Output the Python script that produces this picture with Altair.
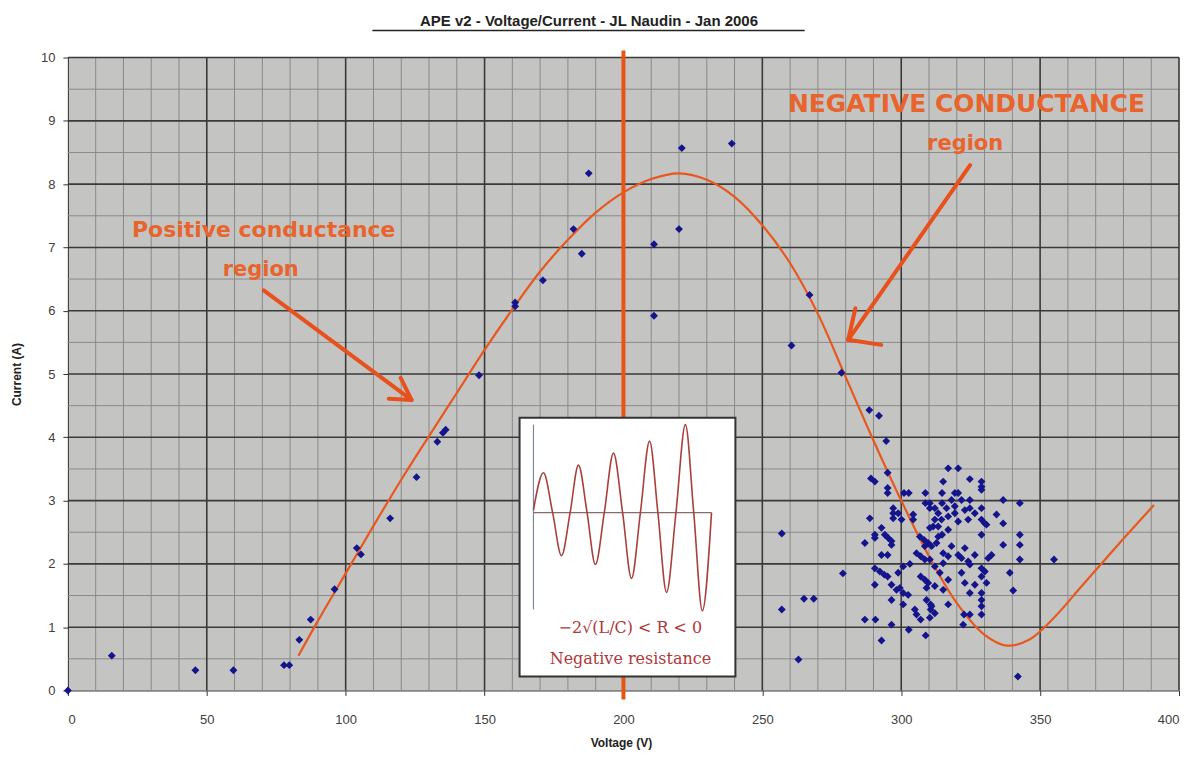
import altair as alt
import pandas as pd

# ---------------- data ----------------
scatter_v = [0, 15.8, 45.9, 59.6, 77.8, 79.7, 83.3, 87.4, 96, 104, 105.5, 116, 125.5, 133, 135, 136,
             148, 161, 161, 171, 182, 185, 187.5, 211, 211, 220, 221, 239, 260.5, 267, 278.5,
             257, 257, 263, 265, 268.5, 279, 288.5, 292, 294.6, 342, 355,
             295.1, 289.1, 290.5, 295.1, 295.1, 301.0, 302.7, 297.1, 297.1, 297.1, 288.7, 298.9,
             300.1, 304.3, 304.3, 286.9, 290.5, 290.5, 292.9, 294.1, 295.3, 296.5, 296.5, 292.9,
             295.1, 290.5, 292.3, 293.9, 295.1, 290.5, 298.9, 300.7, 303.1, 296.5, 298.3, 299.5,
             300.7, 302.5, 296.5, 300.7, 304.9, 305.5, 286.9, 290.7, 296.5, 302.7, 292.9, 308.8,
             307.0, 309.1, 310.6, 310.6, 307.0, 308.5, 309.7, 309.1, 305.5, 307.0, 308.5, 310.3,
             306.7, 308.2, 309.7, 310.9, 312.7, 313.3, 314.7, 308.7, 308.7, 310.3, 310.3, 312.1,
             313.3, 314.7, 314.7, 316.3, 318.1, 319.3, 320.5, 319.3, 319.3, 320.5, 316.9, 315.1,
             316.9, 320.5, 324.7, 328.9, 328.9, 328.9, 324.7, 324.7, 326.5, 328.9, 328.9, 330.1,
             330.7, 328.9, 334.3, 336.7, 336.7, 336.7, 342.7, 342.7, 342.7, 342.7, 322.9, 320.5,
             321.7, 324.1, 324.7, 326.5, 315.1, 315.1, 316.9, 316.9, 328.9, 330.1, 328.9, 330.7,
             328.9, 328.9, 328.9, 328.9, 322.9, 324.7, 326.5, 322.6, 324.7, 322.3, 315.1, 316.9,
             332.5, 331.3, 339.1, 340.3, 310.3, 312.1, 310.9, 312.1, 311.5, 313.3, 314.5, 316.9,
             310.3, 321.7, 322.9, 324.1, 312.1, 313.9, 321.7, 312.1, 308.5, 318.1]
scatter_a = [0, 0.55, 0.32, 0.32, 0.40, 0.40, 0.80, 1.12, 1.60, 2.25, 2.15, 2.72, 3.37, 3.93, 4.07, 4.12,
             4.98, 6.13, 6.07, 6.48, 7.29, 6.90, 8.17, 7.05, 5.92, 7.29, 8.57, 8.64, 5.45, 6.25, 5.02,
             2.48, 1.28, 0.49, 1.45, 1.45, 1.85, 4.43, 4.34, 3.94, 0.22, 2.07,
             3.44, 3.35, 3.30, 3.20, 3.12, 3.12, 3.12, 2.88, 2.80, 2.72, 2.72, 2.80,
             2.70, 2.78, 2.70, 2.33, 2.46, 2.41, 2.57, 2.46, 2.41, 2.36, 2.30, 2.14,
             2.14, 1.93, 1.88, 1.83, 1.80, 1.67, 1.86, 1.96, 2.00, 1.67, 1.59, 1.62,
             1.54, 1.51, 1.43, 1.36, 1.28, 1.20, 1.12, 1.12, 1.04, 0.96, 0.79, 0.87,
             1.12, 1.43, 1.36, 1.28, 1.80, 1.75, 1.70, 1.62, 2.17, 2.12, 2.07, 2.07,
             2.43, 2.38, 2.33, 2.28, 2.33, 2.43, 2.46, 3.12, 2.96, 2.96, 2.88, 2.88,
             2.80, 3.12, 2.96, 2.88, 3.01, 3.12, 3.12, 2.91, 2.80, 2.67, 2.75, 3.30,
             3.51, 3.51, 3.34, 3.30, 3.22, 3.17, 3.01, 2.88, 2.80, 2.88, 2.70, 2.64,
             2.62, 2.46, 2.78, 3.01, 2.64, 2.30, 2.96, 2.46, 2.30, 2.07, 2.25, 2.14,
             2.09, 2.04, 1.99, 2.14, 2.17, 2.01, 2.12, 1.75, 1.93, 1.88, 1.80, 1.70,
             1.54, 1.43, 1.33, 1.20, 1.70, 1.54, 1.67, 1.20, 1.20, 1.04, 1.59, 1.36,
             2.14, 2.09, 1.86, 1.58, 1.15, 1.22, 1.33, 2.70, 2.59, 2.59, 2.70, 2.54,
             2.57, 3.01, 2.85, 2.70, 1.96, 1.86, 1.86, 1.65, 2.28, 2.28]

# trend curve, read point by point
curve_v = [83, 90, 100, 110, 120, 130, 140, 150, 160, 170, 180, 190, 200, 210, 220, 230, 240,
           250, 260, 270, 280, 290, 300, 310, 320, 330, 338, 346, 355, 365, 378, 391]
curve_a = [0.55, 1.1, 1.85, 2.6, 3.33, 4.02, 4.7, 5.38, 6.02, 6.62, 7.12, 7.55, 7.87, 8.08, 8.17, 8.07, 7.8,
           7.35, 6.75, 5.95, 4.95, 3.95, 3.0, 2.12, 1.38, 0.88, 0.71, 0.8, 1.15, 1.65, 2.3, 2.93]

x_ticks = [0, 50, 100, 150, 200, 250, 300, 350, 400]
y_ticks = [0, 1, 2, 3, 4, 5, 6, 7, 8, 9, 10]
x_minor = [v for v in range(10, 400, 10) if v % 50]
x_major = [50, 100, 150, 200, 250, 300, 350, 400]
y_minor = [k + 0.5 for k in range(10)]
y_major = [1, 2, 3, 4, 5, 6, 7, 8, 9, 10]
marker_v = [200]

title_text = ["APE v2 - Voltage/Current - JL Naudin - Jan 2006"]

ann_text = ["Positive conductance", "region", "NEGATIVE CONDUCTANCE", "region"]
ann_v = [70.5, 69.4, 323.5, 323]
ann_a = [7.27, 6.64, 9.27, 8.64]
ann_size = [22, 21, 25, 21]

# arrows (shaft + two barbs each)
arr_v = [70.5, 123.7, 123.7, 324.8, 280.9, 280.9]
arr_a = [6.32, 4.59, 4.59, 8.30, 5.54, 5.54]
arr_v2 = [123.7, 119.8, 115.5, 280.9, 292.8, 283.5]
arr_a2 = [4.59, 4.94, 4.61, 5.54, 5.46, 6.04]

# inset picture
inset_v = [162.6, 240.3]
inset_a = [0.22, 4.31]
wave_v = [167.6, 171.2, 174.5, 177.7, 180.8, 183.8, 186.9, 189.9, 193.1, 196.4, 199.7, 202.9,
          206.1, 209.4, 212.4, 215.5, 218.9, 222.3, 225.3, 228.4, 231.7]
wave_a = [2.85, 3.44, 2.81, 2.13, 2.81, 3.56, 2.81, 1.99, 2.81, 3.75, 2.81, 1.77,
          2.81, 3.94, 2.81, 1.55, 2.81, 4.20, 2.81, 1.26, 2.81]
inset_axis_v = [167.6]
inset_axis_a = [1.28, 4.2]
inset_base_v = [167.6, 231.7]
inset_base_a = [2.81]
inset_text = ["\u22122\u221a(L/C)  <  R  <  0", "Negative resistance"]
inset_text_v = [202.5, 202.5]
inset_text_a = [0.98, 0.50]
inset_text_size = [16, 16]

# ---------------- chart ----------------
W, H = 1113, 634
ORANGE = "#e8581e"
xs = alt.Scale(domain=[0, 400], nice=False, zero=False)
ys = alt.Scale(domain=[0, 10], nice=False, zero=False)
xaxis = alt.Axis(values=x_ticks, title="Voltage (V)", grid=False, titleX=554, titleY=47,
                 labelPadding=18, titleFontWeight="bold")
yaxis = alt.Axis(values=y_ticks, title="Current (A)", grid=False, titleX=-44, titleY=317,
                 labelPadding=8, titleFontWeight="bold")
X = lambda f: alt.X(f, type="quantitative", scale=xs, axis=xaxis)
Y = lambda f: alt.Y(f, type="quantitative", scale=ys, axis=yaxis)

vminor = alt.Chart(pd.DataFrame({"v": x_minor})).mark_rule(color="#8a8a8a", strokeWidth=1).encode(x=X("v"))
vmajor = alt.Chart(pd.DataFrame({"v": x_major})).mark_rule(color="#3a3a3a", strokeWidth=1.6).encode(x=X("v"))
hminor = alt.Chart(pd.DataFrame({"a": y_minor})).mark_rule(color="#8a8a8a", strokeWidth=1).encode(y=Y("a"))
hmajor = alt.Chart(pd.DataFrame({"a": y_major})).mark_rule(color="#3a3a3a", strokeWidth=1.6).encode(y=Y("a"))

vline = alt.Chart(pd.DataFrame({"v": marker_v})).mark_rule(color="#e85512", strokeWidth=4, clip=False).encode(
    x=X("v"), y=alt.value(-7), y2=alt.value(H + 9))

curve = alt.Chart(pd.DataFrame({"v": curve_v, "a": curve_a})).mark_line(
    color=ORANGE, strokeWidth=2.2, interpolate="catmull-rom").encode(x=X("v"), y=Y("a"))

pts = alt.Chart(pd.DataFrame({"v": scatter_v, "a": scatter_a})).mark_point(
    shape="diamond", filled=True, color="#14148c", opacity=1, size=62).encode(x=X("v"), y=Y("a"))

ann = alt.Chart(pd.DataFrame({"t": ann_text, "v": ann_v, "a": ann_a, "s": ann_size})).mark_text(
    font="DejaVu Sans", fontWeight="bold", color="#e8642c", align="center", baseline="middle").encode(
    x=X("v"), y=Y("a"), text="t:N", size=alt.Size("s:Q", scale=None, legend=None))

arrows = alt.Chart(pd.DataFrame({"v": arr_v, "a": arr_a, "v2": arr_v2, "a2": arr_a2})).mark_rule(
    color="#e8501c", strokeWidth=4, strokeCap="round").encode(
    x=X("v"), y=Y("a"), x2="v2:Q", y2="a2:Q")

box = alt.Chart(pd.DataFrame({"v": [inset_v[0]], "v2": [inset_v[1]], "a": [inset_a[0]], "a2": [inset_a[1]]})).mark_rect(
    fill="white", stroke="#333333", strokeWidth=2).encode(x=X("v"), x2="v2:Q", y=Y("a"), y2="a2:Q")

iaxis = alt.Chart(pd.DataFrame({"v": inset_axis_v, "a": [inset_axis_a[0]], "a2": [inset_axis_a[1]]})).mark_rule(
    color="#7d8796", strokeWidth=1.2).encode(x=X("v"), y=Y("a"), y2="a2:Q")
ibase = alt.Chart(pd.DataFrame({"v": [inset_base_v[0]], "v2": [inset_base_v[1]], "a": inset_base_a})).mark_rule(
    color="#8a6a6a", strokeWidth=1.2).encode(x=X("v"), x2="v2:Q", y=Y("a"))
wave = alt.Chart(pd.DataFrame({"v": wave_v, "a": wave_a})).mark_line(
    color="#a8403c", strokeWidth=1.6, interpolate="monotone").encode(x=X("v"), y=Y("a"))
itext = alt.Chart(pd.DataFrame({"t": inset_text, "v": inset_text_v, "a": inset_text_a, "s": inset_text_size})).mark_text(
    font="DejaVu Serif", color="#b0383a", align="center", baseline="middle").encode(
    x=X("v"), y=Y("a"), text="t:N", size=alt.Size("s:Q", scale=None, legend=None))

title = alt.Chart(pd.DataFrame({"t": title_text})).mark_text(
    font="Liberation Sans", fontSize=15, fontWeight="bold", color="#222222",
    align="center", baseline="middle", clip=False).encode(
    x=alt.value(522), y=alt.value(-37), text="t:N")
underline = alt.Chart(pd.DataFrame({"k": [0]})).mark_rule(color="#222222", strokeWidth=1.5, clip=False).encode(
    x=alt.value(305), x2=alt.value(738), y=alt.value(-27))

chart = alt.layer(vminor, hminor, vmajor, hmajor, vline, curve, pts, ann, arrows,
                  box, iaxis, ibase, wave, itext, title, underline).properties(
    width=W, height=H,
    autosize=alt.AutoSizeParams(type="none"),
    padding={"left": 60, "top": 49, "right": 8, "bottom": 61},
).configure_view(fill="#c4c4c2", stroke=None).configure_axis(
    domainColor="#333333", tickColor="#333333", tickSize=5, labelColor="#404040",
    labelFont="Liberation Sans", labelFontSize=13, titleFont="Liberation Sans", titleFontSize=12,
    titleColor="#222222")

chart.save("out.html", embed_options={"renderer": "svg", "actions": False})
